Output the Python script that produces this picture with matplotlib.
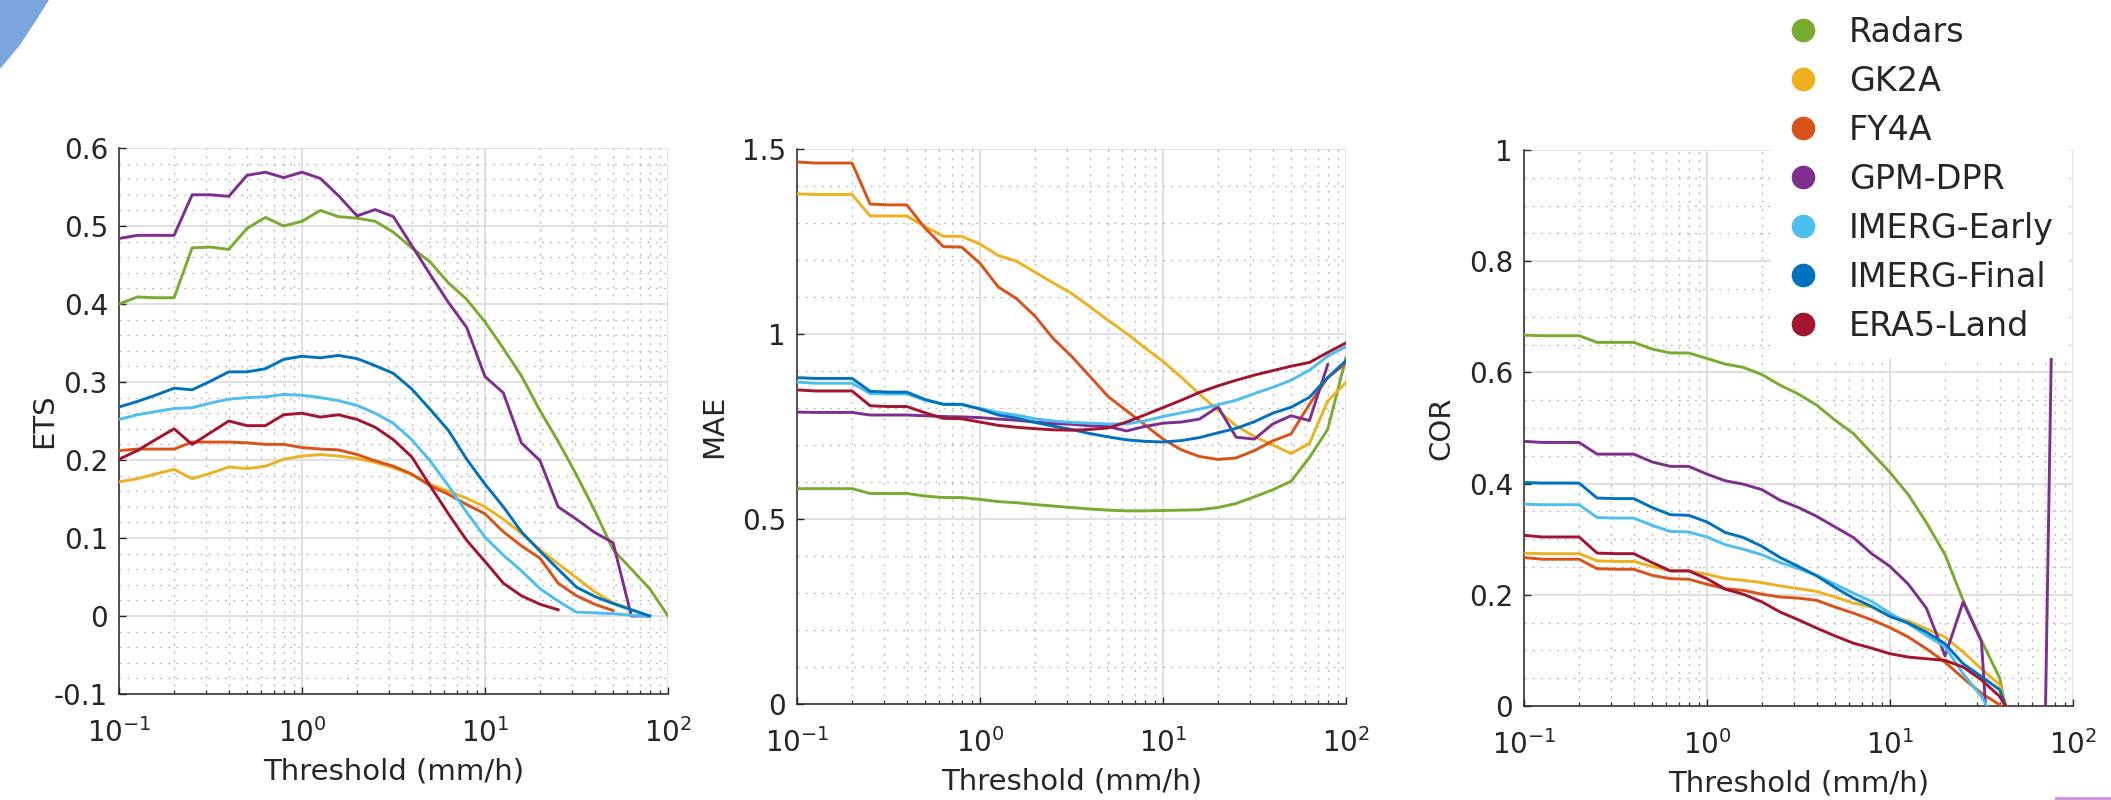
"""
Curvas ETS / MAE / COR en función del umbral de precipitación
para los siete productos (radar, satélites, reanálisis).
"""
import matplotlib
matplotlib.use("Agg")
import matplotlib.pyplot as plt
from matplotlib.lines import Line2D
from matplotlib.patches import Polygon, Rectangle
from matplotlib.ticker import LogLocator, MultipleLocator, FormatStrFormatter, NullFormatter

plt.rcParams['font.family'] = ['DejaVu Sans']
plt.rcParams['axes.unicode_minus'] = False
plt.rcParams['mathtext.default'] = 'regular'

# -------------------------------
# Datos
# -------------------------------
thresholds = [0.1, 0.126, 0.158, 0.2, 0.251, 0.316, 0.398, 0.501, 0.631, 0.794,
              1.0, 1.26, 1.58, 2.0, 2.51, 3.16, 3.98, 5.01, 6.31, 7.94,
              10.0, 12.6, 15.8, 20.0, 25.1, 31.6, 39.8, 50.1, 63.1, 79.4, 100.0]

products = ["Radars", "GK2A", "FY4A", "GPM-DPR", "IMERG-Early", "IMERG-Final", "ERA5-Land"]
colors = ["#77AC30", "#EDB120", "#D95319", "#7E2F8E", "#4DBEEE", "#0072BD", "#A2142F"]

# ETS
radars_ets = [0.400, 0.409, 0.408, 0.408, 0.472, 0.473, 0.470, 0.497, 0.511, 0.500,
              0.506, 0.520, 0.512, 0.510, 0.506, 0.492, 0.472, 0.454, 0.427, 0.406,
              0.377, 0.343, 0.308, 0.263, 0.224, 0.181, 0.135, 0.085, 0.060, 0.035, 0.0]
gk2a_ets = [0.172, 0.176, 0.182, 0.188, 0.176, 0.183, 0.191, 0.189, 0.192, 0.201,
            0.205, 0.207, 0.205, 0.202, 0.197, 0.190, 0.181, 0.169, 0.160, 0.151,
            0.140, 0.124, 0.106, 0.085, 0.067, 0.049, 0.031, 0.017, 0.008, 0.0]
fy4a_ets = [0.212, 0.214, 0.214, 0.214, 0.223, 0.223, 0.223, 0.222, 0.220, 0.220,
            0.216, 0.214, 0.213, 0.207, 0.199, 0.192, 0.182, 0.167, 0.156, 0.143,
            0.131, 0.108, 0.090, 0.074, 0.042, 0.026, 0.015, 0.007]
gpm_ets = [0.484, 0.488, 0.488, 0.488, 0.540, 0.540, 0.538, 0.565, 0.569, 0.562,
           0.569, 0.561, 0.539, 0.513, 0.521, 0.512, 0.475, 0.438, 0.402, 0.370,
           0.307, 0.286, 0.222, 0.199, 0.140, 0.124, 0.107, 0.094, 0.0, 0.0]
early_ets = [0.252, 0.258, 0.262, 0.266, 0.267, 0.273, 0.278, 0.280, 0.281, 0.284,
             0.283, 0.280, 0.276, 0.270, 0.260, 0.247, 0.226, 0.199, 0.167, 0.133,
             0.101, 0.078, 0.058, 0.035, 0.019, 0.005, 0.004, 0.003, 0.001, 0.0]
final_ets = [0.268, 0.275, 0.283, 0.292, 0.290, 0.301, 0.313, 0.313, 0.317, 0.329,
             0.333, 0.331, 0.334, 0.330, 0.321, 0.311, 0.291, 0.265, 0.238, 0.201,
             0.169, 0.140, 0.108, 0.083, 0.060, 0.037, 0.025, 0.016, 0.008, 0.0]
era5_ets = [0.201, 0.212, 0.226, 0.240, 0.220, 0.235, 0.250, 0.244, 0.244, 0.258,
            0.260, 0.255, 0.258, 0.252, 0.242, 0.226, 0.204, 0.167, 0.131, 0.097,
            0.070, 0.042, 0.026, 0.015, 0.008]

# MAE
radars_mae = [0.582, 0.582, 0.582, 0.582, 0.569, 0.569, 0.569, 0.562, 0.558, 0.558,
              0.553, 0.547, 0.544, 0.539, 0.535, 0.531, 0.527, 0.524, 0.522, 0.522,
              0.523, 0.524, 0.525, 0.531, 0.542, 0.560, 0.579, 0.602, 0.666, 0.742, 0.936]
gk2a_mae = [1.379, 1.377, 1.377, 1.377, 1.319, 1.319, 1.319, 1.290, 1.264, 1.264,
            1.243, 1.212, 1.197, 1.167, 1.138, 1.110, 1.074, 1.037, 1.002, 0.963,
            0.926, 0.883, 0.838, 0.793, 0.752, 0.723, 0.700, 0.677, 0.704, 0.819, 0.869]
fy4a_mae = [1.465, 1.462, 1.462, 1.462, 1.351, 1.349, 1.349, 1.286, 1.236, 1.235,
            1.191, 1.127, 1.096, 1.048, 0.988, 0.940, 0.886, 0.831, 0.793, 0.755,
            0.716, 0.687, 0.669, 0.661, 0.665, 0.685, 0.711, 0.730, 0.810, 0.882, 0.921]
gpm_mae = [0.789, 0.788, 0.788, 0.788, 0.781, 0.781, 0.781, 0.779, 0.777, 0.776,
           0.774, 0.770, 0.767, 0.762, 0.758, 0.756, 0.752, 0.750, 0.738, 0.750,
           0.759, 0.762, 0.770, 0.803, 0.721, 0.716, 0.757, 0.779, 0.766, 0.917]
early_mae = [0.870, 0.867, 0.867, 0.867, 0.839, 0.838, 0.838, 0.821, 0.810, 0.809,
             0.799, 0.788, 0.781, 0.771, 0.765, 0.761, 0.759, 0.757, 0.757, 0.765,
             0.777, 0.787, 0.797, 0.809, 0.821, 0.839, 0.856, 0.875, 0.902, 0.940, 0.966]
final_mae = [0.882, 0.880, 0.880, 0.880, 0.845, 0.843, 0.843, 0.823, 0.810, 0.810,
             0.797, 0.781, 0.773, 0.761, 0.751, 0.742, 0.731, 0.722, 0.714, 0.710,
             0.708, 0.712, 0.720, 0.733, 0.745, 0.763, 0.786, 0.802, 0.829, 0.882, 0.928]
era5_mae = [0.849, 0.846, 0.846, 0.846, 0.806, 0.804, 0.804, 0.787, 0.772, 0.771,
            0.762, 0.753, 0.748, 0.744, 0.741, 0.740, 0.742, 0.746, 0.762, 0.781,
            0.801, 0.821, 0.842, 0.860, 0.875, 0.889, 0.901, 0.913, 0.923, 0.950, 0.976]

# COR
radars_cor = [0.667, 0.666, 0.666, 0.666, 0.654, 0.654, 0.654, 0.642, 0.635, 0.635,
              0.625, 0.615, 0.609, 0.596, 0.577, 0.561, 0.541, 0.514, 0.490, 0.455,
              0.420, 0.380, 0.330, 0.272, 0.190, 0.118, 0.050, -0.12]
gk2a_cor = [0.275, 0.274, 0.274, 0.274, 0.261, 0.260, 0.260, 0.251, 0.243, 0.243,
            0.237, 0.229, 0.226, 0.222, 0.216, 0.211, 0.206, 0.196, 0.185, 0.178,
            0.162, 0.153, 0.139, 0.124, 0.097, 0.067, 0.038, -0.07]
fy4a_cor = [0.267, 0.264, 0.264, 0.264, 0.247, 0.246, 0.246, 0.235, 0.229, 0.228,
            0.219, 0.211, 0.208, 0.201, 0.196, 0.194, 0.190, 0.178, 0.167, 0.155,
            0.141, 0.124, 0.103, 0.079, 0.050, 0.023, 0.002, -0.05]
gpm_cor = [0.476, 0.474, 0.474, 0.474, 0.453, 0.453, 0.453, 0.439, 0.431, 0.431,
           0.417, 0.405, 0.399, 0.389, 0.370, 0.357, 0.341, 0.322, 0.303, 0.274,
           0.251, 0.219, 0.176, 0.090, 0.187, 0.116, -0.4, -0.4, -1.0, 1.0]
early_cor = [0.363, 0.362, 0.362, 0.362, 0.339, 0.338, 0.338, 0.325, 0.314, 0.313,
             0.304, 0.290, 0.282, 0.272, 0.258, 0.247, 0.235, 0.219, 0.203, 0.188,
             0.167, 0.148, 0.127, 0.106, 0.058, 0.017, -0.04]
final_cor = [0.402, 0.401, 0.401, 0.401, 0.374, 0.373, 0.373, 0.357, 0.344, 0.343,
             0.331, 0.312, 0.303, 0.287, 0.267, 0.251, 0.234, 0.213, 0.194, 0.179,
             0.161, 0.149, 0.133, 0.112, 0.076, 0.053, 0.029, -0.06]
era5_cor = [0.307, 0.304, 0.304, 0.304, 0.275, 0.274, 0.274, 0.258, 0.243, 0.243,
            0.229, 0.210, 0.201, 0.187, 0.169, 0.155, 0.140, 0.126, 0.113, 0.104,
            0.094, 0.088, 0.085, 0.082, 0.070, 0.047, 0.017, -0.04]

ets_series = [radars_ets, gk2a_ets, fy4a_ets, gpm_ets, early_ets, final_ets, era5_ets]
mae_series = [radars_mae, gk2a_mae, fy4a_mae, gpm_mae, early_mae, final_mae, era5_mae]
cor_series = [radars_cor, gk2a_cor, fy4a_cor, gpm_cor, early_cor, final_cor, era5_cor]

W, H = 2111, 800
TXT = "#262626"


def px_axes(fig, left, top, width, bottom):
    """Crea un eje a partir de coordenadas en píxeles (origen arriba a la izquierda)."""
    return fig.add_axes([left / W, 1 - bottom / H, width / W, (bottom - top) / H])


def style_axes(ax, ylim, major, minor, ylabel, label_x):
    ax.set_xscale("log")
    ax.set_xlim(0.1, 100)
    ax.set_ylim(*ylim)
    ax.xaxis.set_major_locator(LogLocator(base=10, numticks=10))
    ax.xaxis.set_minor_locator(LogLocator(base=10, subs=range(2, 10), numticks=20))
    ax.xaxis.set_minor_formatter(NullFormatter())
    ax.yaxis.set_major_locator(MultipleLocator(major))
    ax.yaxis.set_minor_locator(MultipleLocator(minor))
    ax.yaxis.set_major_formatter(FormatStrFormatter("%g"))

    ax.grid(True, which="major", color="#dadada", lw=1.2, ls="-", zorder=0)
    ax.grid(True, which="minor", color="#b5b5b5", lw=0.9, ls=(0, (1.5, 5)), zorder=0)
    ax.set_axisbelow(True)

    for s in ("top", "right"):
        ax.spines[s].set_visible(False)
    for s in ("left", "bottom"):
        ax.spines[s].set_color(TXT)
        ax.spines[s].set_linewidth(1.1)

    ax.tick_params(axis="x", which="major", direction="in", length=5, width=1.0,
                   colors=TXT, labelsize=20, pad=17)
    ax.tick_params(axis="x", which="minor", direction="in", length=3, width=0.9, colors=TXT)
    ax.tick_params(axis="y", which="major", direction="in", length=5, width=1.0,
                   colors=TXT, labelsize=20, pad=8)
    ax.tick_params(axis="y", which="minor", length=0)

    ax.set_xlabel("Threshold (mm/h)", fontsize=21, color=TXT, labelpad=7)
    ax.set_ylabel(ylabel, fontsize=21, color=TXT)
    ax.yaxis.set_label_coords(label_x, 0.5)


def plot_panel(ax, series):
    for vals, c in zip(series, colors):
        ax.plot(thresholds[:len(vals)], vals, color=c, lw=2.1, zorder=3)


fig = plt.figure(figsize=(W / 100, H / 100), dpi=100)

ax1 = px_axes(fig, 119, 148, 549, 694)
plot_panel(ax1, ets_series)
style_axes(ax1, (-0.1, 0.6), 0.1, 0.02, "ETS", -0.11)

ax2 = px_axes(fig, 797, 149, 549, 704)
plot_panel(ax2, mae_series)
style_axes(ax2, (0, 1.5), 0.5, 0.1, "MAE", -0.125)

ax3 = px_axes(fig, 1524, 150, 549, 706)
plot_panel(ax3, cor_series)
style_axes(ax3, (0, 1), 0.2, 0.05, "COR", -0.125)

# Leyenda (marcadores circulares) encima del panel derecho
handles = [Line2D([], [], ls="none", marker="o", markersize=16, color=c,
                  markeredgecolor=c) for c in colors]
leg = fig.legend(handles, products, loc="upper left",
                 bbox_to_anchor=(1771 / W, 0.999), borderaxespad=0,
                 fontsize=24, labelspacing=0.48, handlelength=1.0,
                 handletextpad=0.88, borderpad=0.45, frameon=True, fancybox=False)
leg.get_frame().set_facecolor("white")
leg.get_frame().set_edgecolor("none")
leg.get_frame().set_alpha(1.0)
for t in leg.get_texts():
    t.set_color(TXT)

# Adornos de la diapositiva original
fig.patches.append(Polygon([(0, 1), (49 / W, 1), (35 / W, 1 - 22 / H),
                            (20 / W, 1 - 45 / H), (0, 1 - 69 / H)],
                           closed=True, transform=fig.transFigure,
                           facecolor="#7aa5dd", edgecolor="none"))
fig.patches.append(Rectangle((2055 / W, 0), 56 / W, 3 / H, transform=fig.transFigure,
                             facecolor="#c89ad9", edgecolor="none"))

fig.savefig("out.png", dpi=100)
